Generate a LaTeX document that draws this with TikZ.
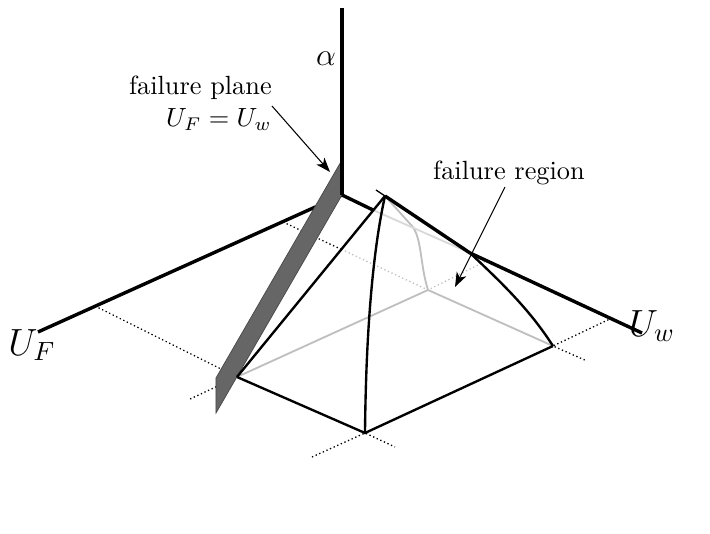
\documentclass[tikz,border=0pt]{standalone}
\usetikzlibrary{arrows.meta}
\tikzset{
	axis/.style = {line width = 1.3pt},
	edge/.style = {line width = 0.9pt},
	hidden/.style = {line width = 0.7pt, black!25},
	proj/.style = {line width = 0.5pt, densely dotted},
	hproj/.style = {line width = 0.5pt, densely dotted, black!25},
	pointer/.style = {line width = 0.4pt, -{Stealth[length = 5.5pt, width = 4pt, inset = 1.5pt]}}
}
\begin{document}
\begin{tikzpicture}[x = 0.38pt, y = -0.38pt]
	\useasboundingbox (0,0) rectangle (710,534);
	% axes and pyramid corners
	\coordinate (O) at (342,195);
	\coordinate (atop) at (342,8);
	\coordinate (fend) at (38,332);
	\coordinate (wend) at (642,333);
	\coordinate (apex) at (385,196);
	\coordinate (cl) at (237,377);
	\coordinate (cb) at (365,433);
	\coordinate (cr) at (553,346);
	\coordinate (ck) at (428,290);
	\coordinate (m) at (470,253);
	\coordinate (n) at (373,210);
	\coordinate (x1) at (341.4,249.4);
	\coordinate (pf1) at (95,306);
	\coordinate (pf2) at (283,222);
	\coordinate (pw1) at (612,318);
	\coordinate (pw2) at (486,261);
	% projection lines
	\draw [proj] (pf1) -- (cl) -- (188,400);
	\draw [proj] (312,457) -- (cb) -- (395,447);
	\draw [proj] (pw1) -- (cr) -- (587,361);
	\draw [proj] (pf2) -- (x1);
	\draw [hproj] (x1) -- (ck) -- (pw2);
	% hidden edges
	\draw [hidden] (cl) -- (ck) -- (cr);
	\draw [hidden] (apex) -- (412,226) .. controls (422,238) and (420,265) .. (ck);
	\draw [hidden, black!15] (n) -- (m);
	% U_F axis behind the plane
	\draw [axis] (O) -- (fend);
	% failure plane
	\draw [fill = black!60, draw = black!70, line width = 0.3pt] (342,160) -- (O) -- (216,413) -- (216,378) -- cycle;
	\draw [axis] (O) -- (atop);
	\draw [axis] (O) -- (n);
	\draw [axis] (m) -- (wend);
	% visible edges
	\draw [edge] (cl) -- (cb) -- (cr);
	\draw [edge] (cl) -- (apex);
	\draw [edge] (apex) .. controls (373,250) and (366,330) .. (cb);
	\draw [axis] (apex) -- (m);
	\draw [line width = 0.5pt] (376,190) -- (apex);
	\draw [edge] (m) .. controls (502,283) and (530,310) .. (cr);
	% labels
	\node at (326,59) {\large $\alpha$};
	\node at (32,345) {\Large $U_F$};
	\node at (652,326) {\Large $U_w$};
	\node [align = right, anchor = east] (plabel) at (281,103) {failure plane\\$U_F = U_w$};
	\node (rlabel) at (509,173) {failure region};
	\draw [pointer] (272,106) -- (330,172);
	\draw [pointer] (505,187) -- (455,287);
\end{tikzpicture}
\end{document}
